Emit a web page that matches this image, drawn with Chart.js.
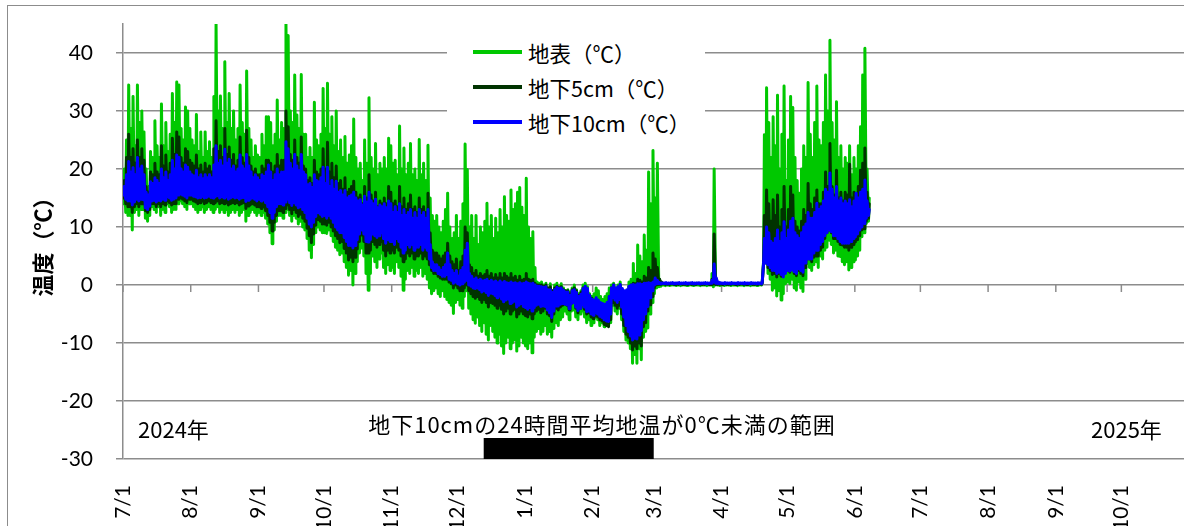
<!DOCTYPE html>
<html lang="ja">
<head>
<meta charset="utf-8">
<title>地温の推移</title>
<script src="https://cdn.jsdelivr.net/npm/chart.js@4.4.1/dist/chart.umd.min.js"></script>
<style>
  html, body { margin: 0; padding: 0; background: #fff; overflow: hidden; width: 1184px; height: 526px; }
  #wrap { position: relative; width: 1184px; height: 526px; overflow: hidden; }
  #frame { position: absolute; left: 7px; top: 5px; width: 1400px; height: 800px;
           border-left: 1.5px solid #8c8c8c; border-top: 1.5px solid #8c8c8c; }
  #chart { position: absolute; left: 0; top: 0; }
  .note { position: absolute; font-family: 'Noto Sans CJK JP'; font-size: 22px; color: #000;
          white-space: nowrap; line-height: 1; }
  #range { font-size: 22px; letter-spacing: 1px; transform: translateX(-50%); }
  #legend { position: absolute; left: 447px; top: 32px; width: 258px; height: 108px; background: #fff; }
  .item { position: absolute; left: 26px; height: 24px; display: flex; align-items: center;
          font-family: 'Noto Sans CJK JP'; font-size: 21.5px; color: #000; white-space: nowrap; }
  .swatch { width: 49px; height: 4px; margin-right: 6px; }
</style>
</head>
<body>
<div id="wrap">
  <div id="frame"></div>
  <canvas id="chart" width="1200" height="526"></canvas>
  <div id="legend"></div>
  <div class="note" style="left:138px; top:417px;">2024年</div>
  <div class="note" style="left:1091px; top:417px;">2025年</div>
  <div class="note" id="range" style="left:602px; top:412px;">地下10cmの24時間平均地温が0℃未満の範囲</div>
</div>
<script>
// Day numbers count from 2024-07-01 (day 0); one value per day.
const monthTicks  = [0, 31, 62, 92, 123, 153, 184, 215, 243, 274, 304, 335, 365, 396, 427, 457];
const monthLabels = ['7/1','8/1','9/1','10/1','11/1','12/1','1/1','2/1','3/1','4/1','5/1','6/1','7/1','8/1','9/1','10/1'];
const yTicks = [-30, -20, -10, 0, 10, 20, 30, 40];

// Surface temperature: daily high / low (°C), 2024-07-01 .. 2025-06-07
const surfaceHigh = [
  20,25,34.5,27,32.5,24,34.5,28,30,26.4,20,17,23,22,28.3,24,22,31.2,24,28,23,26,33,28,35,34.5,27,25,30.7,30,27,
  25,24,29.4,23,26.4,22,26.4,23,24.7,22,32.5,45,30,32.6,27,38.5,28,33,27,30,25,27,34.5,28,26,36.9,27,25,22,24,22.4,
  22,26,24,29,29,28,24,26,31.9,25,28,27,45,43,30,28,36.2,29.3,27,36.3,26,26,22,23.7,22,31.5,25,24,26,33.9,
  27,34.8,26,29,24,30,23,25,22,25.6,21,22.4,24,28.6,22,20,21,18,25,21,32.3,22,20,24.4,19,21,20,22,20,25.3,24,
  21,21.5,19,27.4,20,23.6,19,21,24.4,19,20,18,25.1,19,21,18,24.1,15,12,11,12,10,9,11,13,15.8,10,8,9,12,
  8,11,14,24.3,19.9,10,12,8,12,7,10,9,11,14.1,10,12,8,11.5,9,13,10,15.2,12,11,16.4,13,14,16,16.8,13.4,12,
  18.4,10,8,9.2,3,0.5,0.3,0.5,0,0.3,-0.5,0.2,-1,0,0.3,-0.3,0.2,-0.5,-1,-0.8,-1.2,-0.5,0,-0.8,-1.5,-1,0,0.3,-0.3,-1.5,-2,
  -1.5,-0.5,-1,-2,-2.5,-2,-1.5,-0.5,0,0.3,-0.5,0,0.5,-1,-1.5,-1,0.5,1,3.7,2,6.9,5,4,8.6,6,19.5,14,23.2,
  15,21,1,0.3,0.2,0.1,0.1,0,0.1,0.1,0,0.1,0.2,0.1,0,0.1,0.1,0,0.1,0.1,0.2,0.1,0,0.1,0.1,0.1,2,20,1,0.1,0,
  0.1,0,0.1,0.1,0,0.1,0.1,0.1,0,0.1,0.1,0,0.1,0.1,0,0.1,0.1,0.2,0.5,25.9,34,28,22,29,24,32.7,20,26,34.3,18,
  25,32.5,30.6,22,18,15.8,20,24,22,34.9,26,22,28,34.3,25,24,28,36.2,30,42.2,28,25,31.6,22,24,20,22,21,24,19,22,
  20,24,27.3,36.2,40.8,20,15
];
const surfaceLow = [
  14,12.5,12,12,9.5,12.5,13,12,13,13,11.5,11,12,13.5,13,12.5,13.5,12,13,12.5,14,13.5,12.5,13,13,14,14.5,14,13.5,13,14,
  14,13.5,13,12.5,13,13.5,12.5,13,13.5,13,12.5,13,13.5,12.5,13,12.5,13,12,12.5,13,12.5,13,12,12.5,13,11,12,12.5,13,12.5,12,
  12.5,12,12.5,11.5,10.5,9,7.1,9.5,11,12,12,11.5,12.5,13,12,11,12,11.5,10.5,11,10,9.5,8,6,4.7,7,9,10,9.5,9,
  9,8.9,9.5,8.5,7.5,6.5,6,5.2,5.5,4,3,1.7,2.5,0,2,4,5.5,6.4,5,2,-0.9,2,5,4,3,4.5,5.5,3,2,3.5,2.5,
  3,2,4,3,1.5,-0.9,1,2.5,2,3,1.5,2.5,2,3,1.5,2,1,-0.5,-1.5,-1,-0.5,-1.5,-2,-1,-2,-2.5,-3,-3.5,-4.9,-3,
  -2.5,-3.5,-4,-2,-1,-4,-5,-6,-6.6,-5.5,-7,-8,-6.5,-8.5,-9.5,-7,-8,-9,-10,-8.5,-10.5,-11.8,-10,-9,-11,-10,-9.5,-11.4,-10.5,-9,-10,
  -10.5,-11,-10,-11.7,-9,-8,-7.5,-8.5,-8,-7,-8.5,-8,-9,-7.5,-6.5,-7,-6,-5.5,-4.5,-5,-6,-4.5,-4.3,-5.5,-6,-5,-4.5,-5.5,-6.5,-6,-7,
  -6.5,-5.5,-6,-7,-6.5,-7.2,-7,-5.5,-6.5,-3.5,-4.5,-5,-4,-6,-8,-9.5,-10,-11,-13.5,-12,-13.5,-11,-12.9,-9,-8,-7.4,-5,-3,
  -1.5,-0.5,-0.3,-0.2,0,-0.1,0,-0.1,0,0,-0.1,0,-0.1,0,0,-0.1,0,0,-0.1,0,0,-0.1,0,0,-0.1,0,0,-0.3,0,0,-0.1,
  0,-0.1,0,0,-0.1,0,0,-0.1,0,0,-0.1,0,0,-0.1,0,0,-0.1,0,0,4.3,4,2,1,-0.9,-0.5,-1.9,-1,-2.6,-1.5,0.2,
  0.5,0.2,1,-0.5,-0.9,0.5,-0.5,-1.1,1,3.7,3,2.5,3.5,4,3,5,4.5,6,6.5,7.7,7,5.5,6,5,4.9,4,3.5,4,2.6,3,4,
  4.3,5,6,8.3,9,10.6,11
];

// 5 cm below ground: daily high / low (°C)
const depth5High = [
  18,22,26,22,23.5,21,25,22,23.5,21.5,17,16,19.5,19,21,19.5,19,24,20.5,22.4,19.5,21,25.3,22.5,26.4,25.5,22,21,23.5,23,21.5,
  21,20.5,22.4,20,20.7,19.5,21,20,20.5,19.5,23.5,28.3,23,24,22,27,22.5,23.8,21.5,22.5,20.5,21.5,25.5,22,21,26.7,22,20.5,19.5,20,19,
  19,20.5,20,21.5,21.5,21,19.5,20.5,22.5,20.5,21.5,21.5,30,27.3,22.5,21.5,25,22,21,25.5,20.5,20,18,18.5,17.5,21.5,19.5,19,20,23.5,
  20,24.6,19.5,21,18.5,20.5,17.5,18,16.5,18.5,16,16.5,17,17.9,16,15,15.5,14,17,15,19,15.5,14.5,16,13.5,14.5,14,15,14,17,16,
  14,14.5,13.5,17,13.5,15,13,14,15.5,13,13.5,12.5,15,13,13.5,12.5,15.8,9,6,5.5,5.5,5,4.5,5,5.5,7.2,5,4,3.5,4.5,
  2.5,4,5,10,9,3.5,3,2,2.5,1.5,2,1.5,1.8,2.5,1.5,2,1.2,1.8,1.2,2,1.2,2,1.5,1.2,2,1.2,1.5,0.8,1.5,0.8,1,
  2,1,0.8,1,0.3,0,0,0,-0.2,0,-0.5,-0.3,-1,-0.5,-0.2,-0.5,-0.3,-0.8,-1,-1,-1.5,-0.8,-0.5,-1,-1.8,-1.3,-0.5,-0.3,-0.8,-1.8,-2.3,
  -2.8,-2.5,-3,-3.3,-3.5,-3.5,-3.3,-2,-0.5,0,-0.8,-0.5,0,-1,-1.5,-1.2,-0.3,0,0.3,0.2,1,0.8,0.5,1.5,1.2,3,2.5,5.5,
  4.5,3,1,0.5,0.3,0.3,0.2,0.3,0.3,0.2,0.3,0.3,0.2,0.3,0.3,0.2,0.3,0.3,0.2,0.3,0.3,0.2,0.3,0.3,0.3,0.3,1,8.8,0.8,0.3,0.3,
  0.2,0.3,0.2,0.2,0.3,0.2,0.2,0.3,0.2,0.2,0.3,0.2,0.2,0.3,0.2,0.2,0.3,0.3,0.3,12,16.4,14,11,14.7,12,15.5,10,13,17,10,
  13,17,15.5,11,10,9.3,11,13,12,17.5,14,13,15,16.4,14,14,16,19.5,17,24.4,17,15.5,19.8,15,16,14.5,16,15.5,20.8,15,16,
  15,17,19.8,21,23.6,16,14
];
const depth5Low = [
  15,14,13.5,13.5,12.5,13.5,14,13.5,14,14,12.8,12.5,13,14,14,13.5,14,13.5,14,13.8,14.5,14.2,13.8,14,14,14.8,15,14.8,14.5,14.2,14.8,
  14.8,14.5,14.3,14,14.2,14.5,14,14.2,14.5,14.2,14,14.2,14.5,14,14.2,14,14.2,13.8,14,14.2,14,14.2,13.8,14,14.2,13.2,13.6,13.8,14,13.8,13.5,
  13.5,13.2,13.5,12.8,12,10.8,9.3,10.8,12,12.8,12.8,12.5,13.2,13.8,13,12.3,13,12.5,11.8,12.2,11.5,11,9.8,8.5,7.3,8.8,10.3,11.3,11,10.5,
  10.5,10.3,10.8,10,9.3,8.5,8,7.3,7.5,6.3,5.5,4.3,4.8,4,4.8,6.2,7.5,8.6,7.5,5.5,5.5,6,7.5,7,6.5,7,7.5,6,5,6,5.5,
  6,5.5,6.5,6,5,4,4.5,5.5,5,5.5,4.5,5,5,5.5,4.5,5,4.5,3.5,2.5,2,2,1.5,1.2,1,1,1,0.5,0.2,-0.5,0,
  -0.5,-1,-1,-0.5,0,-1,-1.5,-2,-2.3,-2,-2.5,-3,-2.5,-3,-3.8,-3,-3.2,-3.5,-4,-3.5,-4.2,-5,-4.5,-4,-5,-4.5,-4.2,-5.5,-5,-4.5,-5,
  -5.3,-5.5,-5,-5.8,-5,-4.5,-4.2,-4.8,-4.5,-4,-5,-5.3,-6.3,-5,-4,-4.3,-3.8,-3.5,-3.3,-3.5,-4.3,-3.2,-3,-4,-4.8,-4,-3.3,-4.2,-5,-4.8,-5.5,
  -5.8,-5.3,-5.5,-6,-6.2,-6.8,-7,-7.2,-6,-3,-3.5,-4,-3.5,-5,-7,-8.5,-9,-10,-11.2,-10.5,-11,-10,-10.5,-7.2,-6.5,-4.5,-3.4,-2,
  -0.5,0,0.1,0.1,0.2,0.1,0.1,0.1,0.2,0.1,0.1,0.1,0.2,0.1,0.1,0.1,0.2,0.1,0.1,0.1,0.2,0.1,0.1,0.1,0.2,0.1,0.1,0.2,0.1,0.1,0.1,
  0.1,0.2,0.1,0.1,0.1,0.2,0.1,0.1,0.1,0.2,0.1,0.1,0.1,0.2,0.1,0.1,0.1,0.2,0.1,4,3.8,3,2.5,1.8,2,1.4,2,1.5,1.8,2.5,
  2.5,2.2,2.8,2,1.6,2.5,2,1.6,3,4.5,4.5,4,4.8,5,5,6,6.5,8,9,9.5,9,8,8,7.5,7,6.9,6.5,6.5,6,6.5,7,
  7.4,7.8,8.5,9.5,9.7,11,11.5
];

// 10 cm below ground: daily high / low (°C)
const depth10High = [
  17,19,21.3,19.5,20.2,19,22,20,20.5,19,16,15.5,17.8,17.5,18.5,18,17.5,20,18.5,19.5,18,19,21.5,20,22.4,22,20,19.5,20.7,20.3,19.5,
  19,18.8,19.8,18.5,19,18.3,19,18.5,19,18.5,20.7,24,21,21.5,20.5,23.4,21,21.7,20,20.5,19.5,20,22.4,20.5,20,22.5,20.5,19.5,18.5,19,18.5,
  18,19,18.7,19.5,20.7,19.5,18,19,20,19,19.5,19.5,24.7,23.5,21,20,22.5,20.5,19.7,22.5,19.5,19,17.3,17.5,16.8,19,18,17.8,18.5,20.3,
  17.5,20.3,17,18,16.5,17.9,16,16.3,15.5,16.3,15,15.3,15.5,16,15,14.5,14.7,13.8,15.3,14.3,16,14.5,14,14.8,13.3,13.8,13.5,14,13.3,14.5,14,
  12.5,13.5,12.5,14,12,13,12,12.5,13,11.5,12.5,11.5,13,12,12.5,11.5,13,7,4,3.5,3.5,3,2.5,3,3.5,5.5,3.5,2.5,2,2.5,
  1.5,2.5,3,6,7.2,2,1.5,1,1.2,0.8,1,0.7,0.8,1,0.6,0.8,0.5,0.7,0.4,0.7,0.4,0.6,0.4,0.3,0.5,0.3,0.4,0.2,0.4,0.2,0.3,
  0.5,0.3,0.2,0.3,0,-0.2,-0.2,-0.3,-0.4,-0.3,-0.8,-0.8,-1.3,-0.8,-0.4,-0.6,-0.5,-0.9,-1.2,-1.2,-1.8,-1,-0.8,-1.3,-2,-1.6,-0.6,-0.2,-0.6,-1.8,-2.4,
  -2.6,-2.2,-2.6,-3,-3.2,-3.3,-3,-2,-0.5,0,-0.5,-0.3,0.1,-0.6,-1,-0.8,-0.2,0,0.1,0,0.2,0.2,0.1,0.3,0.3,0.4,0.3,0.5,
  1.2,0.8,0.4,0.35,0.35,0.4,0.35,0.35,0.4,0.35,0.35,0.4,0.35,0.35,0.4,0.35,0.35,0.4,0.35,0.35,0.4,0.35,0.35,0.4,0.35,0.35,0.8,3.6,1.2,0.5,0.4,
  0.35,0.4,0.35,0.35,0.4,0.35,0.35,0.4,0.35,0.35,0.4,0.35,0.35,0.4,0.35,0.35,0.4,0.35,0.4,8,10,9,7.5,7.2,8,9.5,7.5,9,10.9,8,
  9.5,11,11.5,9,8.5,8,9,10,10.5,12.5,11.5,11.5,12.5,14.1,13,13.5,14.5,16.5,16,19.3,16.5,15,17,14.5,15,14,14.5,14,14.7,13.5,14.5,
  15.8,15,16,16.5,18.1,14.5,13
];
const depth10Low = [
  15.5,14.8,14.5,14.5,13.8,14.3,14.8,14.5,14.8,14.7,13.3,13,13.6,14.5,14.6,14.3,14.6,14.5,14.8,14.6,15.2,15,14.6,14.8,15,15.5,15.7,15.5,15.3,15,15.5,
  15.5,15.3,15.2,15,15.1,15.3,15,15.1,15.3,15.1,15,15.2,15.4,15,15.2,15,15.2,14.8,15,15.2,15,15.1,14.8,15,15.1,14.4,14.6,14.8,15,14.8,14.5,
  14.8,14.5,14.7,14.2,13.5,12.5,11.5,12.5,13.5,14,14,13.8,14.3,14.8,14.2,13.7,14.2,13.8,13.3,13.5,13,12.5,11.5,10.5,10,10.8,11.8,12.5,12.2,11.8,
  12,11.5,12,11.5,10.8,10,9.5,9,9,8.2,7.5,6.8,6.8,6.4,6.8,7.8,8.8,9.5,8.8,7.5,7.4,7.8,8.8,8.5,8.2,8.5,9,8,7.2,7.8,7.5,
  7.5,7,8,7.5,6.5,5.5,6,7,6.5,7,6,6.5,6.5,7,6,6.5,6,4.5,3,2.5,2.5,2,1.8,1.5,1.5,1.8,1,0.8,0.3,0.5,
  0.2,0,0.2,0.5,0.8,0,-0.2,-0.5,-0.6,-0.5,-0.8,-1.2,-1,-1.3,-1.8,-1.4,-1.5,-1.8,-2.2,-1.9,-2.4,-2.9,-2.6,-2.4,-3.2,-3,-2.8,-3.8,-3.5,-3.2,-3.7,
  -3.9,-4.2,-3.9,-4.5,-3.9,-3.5,-3.3,-3.7,-3.6,-3.7,-4.3,-4.8,-5.6,-4.5,-3.6,-3.6,-3.3,-3.2,-3.3,-3.4,-4.1,-3.2,-3,-3.8,-4.4,-4,-3.4,-3.8,-4.6,-4.5,-5,
  -5.2,-4.8,-5,-5.4,-5.6,-6,-6.2,-6.3,-5,-2.2,-2.6,-3,-2.5,-3.8,-5.5,-7,-8,-8.8,-9.5,-9.2,-9.3,-8.6,-7.9,-6,-5,-3.7,-2.2,-1,
  0,0.2,0.25,0.2,0.25,0.25,0.2,0.25,0.25,0.2,0.25,0.25,0.2,0.25,0.25,0.2,0.25,0.25,0.2,0.25,0.25,0.2,0.25,0.25,0.2,0.25,0.3,0.5,0.3,0.25,0.25,
  0.25,0.2,0.25,0.25,0.2,0.25,0.25,0.2,0.25,0.25,0.2,0.25,0.25,0.2,0.25,0.25,0.2,0.25,0.2,3.8,3.8,3.5,3,2.5,2.5,2,2.2,1.8,1.4,2,
  2.5,2.4,2.6,2.3,2,2.8,2.5,2.2,3.8,4.5,4.5,4.5,5.5,6,6,7,7.5,8.5,9,9.5,9.2,8.5,8.5,8,7.5,7.2,7.2,7.2,7.2,7.5,8,
  8.3,8.8,9.5,10,10.6,11.5,12
];

// Days when the 24-hour mean at 10 cm stayed below 0 °C, and the bar's top edge
const belowZeroSpan = [165, 243];
const belowZeroBarTop = -26.4;

const seriesNames  = ['地表（℃）', '地下5cm（℃）', '地下10cm（℃）'];
const seriesColors = ['#00c800', '#003300', '#0000ff'];

// Each day gives an early-morning low and an afternoon high.
function dailyPoints(high, low) {
  const pts = [];
  for (let d = 0; d < high.length; d++) {
    pts.push({ x: d + 0.25, y: low[d] });
    pts.push({ x: d + 0.6, y: high[d] });
  }
  return pts;
}

const lineStyle = { borderWidth: 3, pointRadius: 0, fill: false, tension: 0,
                    borderJoinStyle: 'round', borderCapStyle: 'round' };

const datasets = [
  Object.assign({ label: seriesNames[2], data: dailyPoints(depth10High, depth10Low),
    borderColor: seriesColors[2], order: 0 }, lineStyle),
  Object.assign({ label: seriesNames[1], data: dailyPoints(depth5High, depth5Low),
    borderColor: seriesColors[1], order: 1 }, lineStyle),
  Object.assign({ label: seriesNames[0], data: dailyPoints(surfaceHigh, surfaceLow),
    borderColor: seriesColors[0], order: 2 }, lineStyle),
  { label: 'belowZero', order: 3,
    data: belowZeroSpan.map(d => ({ x: d, y: belowZeroBarTop })),
    borderWidth: 0, borderColor: '#000', backgroundColor: '#000',
    pointRadius: 0, fill: 'start', tension: 0 }
];

// Short marks hanging below the 0 °C line at each month start
const zeroLineTicks = {
  id: 'zeroLineTicks',
  beforeDatasetsDraw(chart) {
    const { ctx, scales: { x, y } } = chart;
    const y0 = y.getPixelForValue(0);
    ctx.save();
    ctx.strokeStyle = '#8c8c8c';
    ctx.lineWidth = 1.5;
    monthTicks.forEach(v => {
      const px = x.getPixelForValue(v);
      ctx.beginPath();
      ctx.moveTo(px, y0);
      ctx.lineTo(px, y0 + 7);
      ctx.stroke();
    });
    ctx.restore();
  }
};

const tickFont = { family: 'Lato', size: 21 };

new Chart(document.getElementById('chart'), {
  type: 'line',
  data: { datasets },
  options: {
    responsive: false,
    animation: false,
    events: [],
    parsing: false,
    layout: { padding: { top: 24, right: 0, bottom: 0, left: 0 } },
    plugins: { legend: { display: false }, tooltip: { enabled: false } },
    scales: {
      x: {
        type: 'linear', min: 0, max: 493,
        afterBuildTicks: s => { s.ticks = monthTicks.map(v => ({ value: v })); },
        afterFit: s => { s.height = 67; s.paddingLeft = 0; s.paddingRight = 0; },
        ticks: { callback: (v, i) => monthLabels[i], minRotation: 90, maxRotation: 90,
                 autoSkip: false, padding: 18, font: tickFont, color: '#000' },
        grid: { display: false },
        border: { display: false }
      },
      y: {
        min: -30, max: 45,
        afterBuildTicks: s => { s.ticks = yTicks.map(v => ({ value: v })); },
        afterFit: s => { s.width = 123; s.paddingTop = 0; s.paddingBottom = 0; },
        ticks: { padding: 23, font: tickFont, color: '#000' },
        grid: { color: '#8c8c8c', lineWidth: 1.5, tickLength: 7, drawTicks: true },
        border: { color: '#8c8c8c', width: 1.5 },
        title: { display: true, text: '温度（℃）', color: '#000',
                 font: { family: "'Noto Sans CJK JP'", size: 22, weight: 'bold' },
                 padding: { top: 29, bottom: 0 } }
      }
    }
  },
  plugins: [zeroLineTicks]
});

// Legend box drawn over the plot, listing the three depths
const legendBox = document.getElementById('legend');
[0, 1, 2].forEach((i, row) => {
  const item = document.createElement('div');
  item.className = 'item';
  item.style.top = (8 + row * 35) + 'px';
  const sw = document.createElement('span');
  sw.className = 'swatch';
  sw.style.background = seriesColors[i];
  const tx = document.createElement('span');
  tx.textContent = seriesNames[i];
  item.appendChild(sw);
  item.appendChild(tx);
  legendBox.appendChild(item);
});
</script>
</body>
</html>
